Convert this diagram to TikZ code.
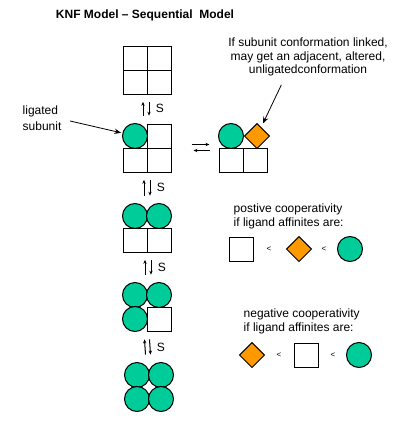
\documentclass[tikz,border=0pt]{standalone}
\usepackage{fontspec}
\setmainfont{Liberation Sans}
\usetikzlibrary{positioning,shapes.geometric,arrows.meta}

\definecolor{ligand}{RGB}{0,204,153}
\definecolor{altered}{RGB}{255,153,0}

\begin{document}
\begin{tikzpicture}[x=0.75pt,y=-0.75pt,on grid,node distance=18pt,
  font=\fontsize{9}{10.2}\selectfont,
  cell/.style={draw,minimum size=18pt,inner sep=0pt,line width=0.75pt},
  lig/.style={circle,draw,fill=ligand,minimum size=18.75pt,inner sep=0pt,line width=0.75pt},
  alt/.style={diamond,draw,fill=altered,minimum size=19pt,inner sep=0pt,line width=0.75pt},
  eqv/.style={-{Stealth[length=3pt,width=2.5pt]},line width=0.75pt,shorten <=5.5pt,shorten >=5.5pt},
  lt/.style={font=\fontsize{6}{7}\selectfont},
  pointer/.style={-{Stealth[length=5pt,width=4pt]},line width=0.6pt}]
  \useasboundingbox (0,0) rectangle (414,433);

  \node[font=\fontsize{9}{11}\selectfont\bfseries] (title) at (145,15) {KNF Model -- Sequential\ \ Model};

  % empty tetramer
  \node[cell] (a1) at (135,58) {};
  \node[cell] (a2) [right=of a1] {};
  \node[cell] (a3) [below=of a1] {};
  \node[cell] (a4) [right=of a3] {};

  % one ligand bound
  \node[lig] (b1) at (135,136) {};
  \node[cell] (b2) [right=of b1] {};
  \node[cell] (b3) [below=of b1] {};
  \node[cell] (b4) [right=of b3] {};

  % two bound
  \node[lig] (c1) at (135,216) {};
  \node[lig] (c2) [right=of c1] {};
  \node[cell] (c3) [below=of c1] {};
  \node[cell] (c4) [right=of c3] {};

  % three bound
  \node[lig] (d1) at (135,295) {};
  \node[lig] (d2) [right=of d1] {};
  \node[lig] (d3) [below=of d1] {};
  \node[cell] (d4) [right=of d3] {};

  % all bound
  \node[lig] (e1) at (137,375) {};
  \node[lig] (e2) [right=of e1] {};
  \node[lig] (e3) [below=of e1] {};
  \node[lig] (e4) [right=of e3] {};

  % altered neighbour
  \node[lig] (r1) at (231,136) {};
  \node[alt] (r2) [right=19.5pt of r1] {};
  \node[cell] (r3) [below=of r1] {};
  \node[cell] (r4) [right=of r3] {};

  \path[eqv]
    ([xshift=6pt]b1.north) edge ([xshift=6pt]a3.south)
    ([xshift=10.5pt]a3.south) edge node[right,xshift=1.5pt] {S} ([xshift=10.5pt]b1.north)
    ([xshift=6.75pt]c1.north) edge ([xshift=6.75pt]b3.south)
    ([xshift=11.25pt]b3.south) edge node[right,xshift=1.5pt] {S} ([xshift=11.25pt]c1.north)
    ([xshift=7.5pt]d1.north) edge ([xshift=7.5pt]c3.south)
    ([xshift=12pt]c3.south) edge node[right,xshift=1.5pt] {S} ([xshift=12pt]d1.north)
    ([xshift=6.75pt]e1.north) edge ([xshift=6.75pt]d3.south)
    ([xshift=10.5pt]d3.south) edge node[right,xshift=1.5pt] {S} ([xshift=10.5pt]e1.north);

  \path[-{Stealth[length=3pt,width=2.5pt]},line width=0.75pt]
    ([xshift=15pt,yshift=2.25pt]b4.north east) edge ([xshift=-6.75pt,yshift=2.25pt]r3.north west)
    ([xshift=-6.75pt,yshift=-2.25pt]r3.north west) edge ([xshift=16.5pt,yshift=-2.25pt]b4.north east);

  % notes
  \node[align=left,anchor=west,font=\fontsize{9}{12}\selectfont] (ligtxt) at (18,118) {ligated\\subunit};
  \node[align=center] (note) at (308,57) {If subunit conformation linked,\\may get an adjacent, altered,\\unligatedconformation};
  \draw[pointer,shorten >=1pt] ([shift={(3pt,-2.25pt)}]ligtxt.east) -- (b1);
  \draw[pointer,shorten >=3pt] ([shift={(-20pt,-3pt)}]note.south) -- (r2);

  % affinity order
  \node[align=left,anchor=west] (postxt) at (229,216.5) {postive cooperativity\\if ligand affinites are:};
  \node[cell] (p1) at (241,249) {};
  \node[lt] (pl1) [right=21pt of p1] {<};
  \node[alt] (p2) [right=22.5pt of pl1] {};
  \node[lt] (pl2) [right=18.75pt of p2] {<};
  \node[lig] (p3) [right=19.5pt of pl2] {};

  \node[align=left,anchor=west] (negtxt) at (239,321.5) {negative cooperativity\\if ligand affinites are:};
  \node[alt] (n1) at (252,355) {};
  \node[lt] (nl1) [right=20.25pt of n1] {<};
  \node[cell] (n2) [right=20.25pt of nl1] {};
  \node[lt] (nl2) [right=20.25pt of n2] {<};
  \node[lig] (n3) [right=19.5pt of nl2] {};
\end{tikzpicture}
\end{document}
